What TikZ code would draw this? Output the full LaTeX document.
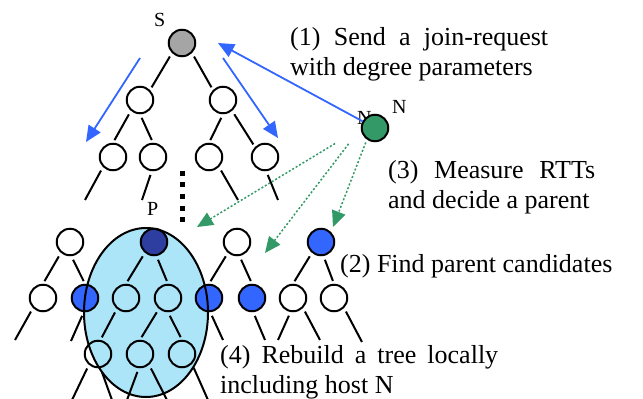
\documentclass[tikz,border=0pt]{standalone}
\usepackage{fontspec}
\setmainfont{Liberation Serif}
\usepackage{xcolor}
\usepackage{tikz}
\usetikzlibrary{positioning, arrows.meta}

\definecolor{candblue}{RGB}{51,102,255}
\definecolor{rttgreen}{RGB}{51,153,102}
\definecolor{parentblue}{RGB}{45,62,160}
\definecolor{rootgray}{RGB}{165,165,165}
\definecolor{areacyan}{RGB}{172,228,248}

\begin{document}
\begin{tikzpicture}[x=1pt,y=-1pt]
	\tikzstyle{host}=[circle,draw=black,line width=2pt,minimum size=26.5pt,inner sep=0pt,fill=white]
	\tikzstyle{hostin}=[host,fill=none]
	\tikzstyle{cand}=[host,fill=candblue]
	\tikzstyle{link}=[line width=2pt,shorten <=4pt,shorten >=3pt]
	\tikzstyle{stub}=[line width=2pt,shorten <=4pt]
	\tikzstyle{spread}=[line width=1.8pt,draw=candblue,-{Triangle[length=16pt,width=14pt]}]
	\tikzstyle{rtt}=[line width=1.5pt,draw=rttgreen,dash pattern=on 2pt off 2pt,-{Triangle[length=16pt,width=14pt]}]
	\tikzstyle{note}=[anchor=base west,inner sep=0pt,font=\fontsize{26}{30}\selectfont,align=left]
	\tikzstyle{tag}=[anchor=base west,inner sep=0pt,font=\fontsize{20}{24}\selectfont]
	\useasboundingbox (0,0) rectangle (643,399);
	\fill[areacyan] (146,312.5) ellipse (62pt and 84.5pt);
	\node[host,fill=rootgray](s) at (182,43) {};
	\node[tag](ls) at (154,26) {S};
	\node[host](a1) at (140,100) {};
	\node[host](a2) at (223,100) {};
	\node[host](b1) at (113,157) {};
	\node[host](b2) at (153,157) {};
	\node[host](b3) at (209,157) {};
	\node[host](b4) at (265,157) {};
	\node[host](c1) at (70,242) {};
	\node[host,fill=parentblue](p) at (154,242) {};
	\node[tag](lp) at (147,215) {P};
	\node[host](c3) at (237,242) {};
	\node[cand](c4) at (321,242) {};
	\node[host](d1) at (43,298) {};
	\node[cand](d2) at (85,298) {};
	\node[hostin](d3) at (126,298) {};
	\node[hostin](d4) at (168,298) {};
	\node[cand](d5) at (209,298) {};
	\node[cand](d6) at (252,298) {};
	\node[host](d7) at (293,298) {};
	\node[host](d8) at (334,298) {};
	\node[hostin](e1) at (98,354) {};
	\node[hostin](e2) at (140,354) {};
	\node[hostin](e3) at (182,354) {};
	\node[tag](lnhid) at (357,124) {N};
	\node[host,fill=rttgreen](n) at (375,128) {};
	\node[tag](ln) at (392,113) {N};
	\coordinate (t1) at (85,200);
	\coordinate (t2) at (142,200);
	\coordinate (t3) at (238,200);
	\coordinate (t4) at (278,200);
	\coordinate (u1) at (15,340);
	\coordinate (u2) at (71,341);
	\coordinate (u3) at (223,340);
	\coordinate (u4) at (265,340);
	\coordinate (u5) at (278,340);
	\coordinate (u6) at (320,340);
	\coordinate (u7) at (362,342);
	\coordinate (v1) at (72,400);
	\coordinate (v2) at (112,400);
	\coordinate (v3) at (127,400);
	\coordinate (v4) at (167,400);
	\coordinate (v5) at (208,400);
	\draw[link] (s.225) -- (a1.45);
	\draw[link] (s.-45) -- (a2.135);
	\draw[link] (a1.230) -- (b1.90);
	\draw[link] (a1.270) -- (b2.90);
	\draw[link] (a2.270) -- (b3.90);
	\draw[link] (a2.310) -- (b4.135);
	\draw[stub] (b1.225) -- (t1);
	\draw[stub] (b2.265) -- (t2);
	\draw[stub] (b3.315) -- (t3);
	\draw[stub] (b4.275) -- (t4);
	\draw[link] (c1.230) -- (d1.90);
	\draw[link] (c1.275) -- (d2.90);
	\draw[link] (p.230) -- (d3.90);
	\draw[link] (p.280) -- (d4.90);
	\draw[link] (c3.230) -- (d5.90);
	\draw[link] (c3.280) -- (d6.90);
	\draw[link] (c4.230) -- (d7.90);
	\draw[link] (c4.280) -- (d8.90);
	\draw[link] (d3.230) -- (e1.80);
	\draw[link] (d4.230) -- (e2.90);
	\draw[link] (d4.270) -- (e3.90);
	\draw[stub] (d1.225) -- (u1);
	\draw[stub] (d2.265) -- (u2);
	\draw[stub] (d5.275) -- (u3);
	\draw[stub] (d6.275) -- (u4);
	\draw[stub] (d7.260) -- (u5);
	\draw[stub] (d7.315) -- (u6);
	\draw[stub] (d8.315) -- (u7);
	\draw[stub] (e1.230) -- (v1);
	\draw[stub] (e1.280) -- (v2);
	\draw[stub] (e2.265) -- (v3);
	\draw[stub] (e2.310) -- (v4);
	\draw[stub] (e3.315) -- (v5);
	\draw[line width=2pt] (146,312.5) ellipse (62pt and 84.5pt);
	\coordinate (dotstop) at (182,170.5);
	\coordinate (dotsbot) at (182,224);
	\draw[line width=5pt,dash pattern=on 5pt off 6.7pt] (dotstop) -- (dotsbot);
	\coordinate (sreq) at (218,43);
	\coordinate (lspread0) at (140,58);
	\coordinate (lspread1) at (86,142);
	\coordinate (rspread0) at (223,58);
	\coordinate (rspread1) at (278,138);
	\draw[spread] (n) -- (sreq);
	\draw[spread] (lspread0) -- (lspread1);
	\draw[spread] (rspread0) -- (rspread1);
	\coordinate (r1) at (197,227);
	\coordinate (r2) at (265,253);
	\coordinate (r3) at (333,227);
	\draw[rtt,shorten <=30pt] (n.west) -- (r1);
	\draw[rtt,shorten <=20pt] (n.west) -- (r2);
	\draw[rtt,shorten <=3pt] (n.-125) -- (r3);
	\node[note](req) at (290,75) {\makebox[258pt][s]{(1) Send a join-request}\\with degree parameters};
	\node[note](meas) at (388,208) {\makebox[207pt][s]{(3) Measure RTTs}\\and decide a parent};
	\node[note](find) at (340,272) {(2) Find parent candidates};
	\node[note](rebuild) at (220,393) {\makebox[278pt][s]{(4) Rebuild a tree locally}\\including host N};
\end{tikzpicture}
\end{document}
